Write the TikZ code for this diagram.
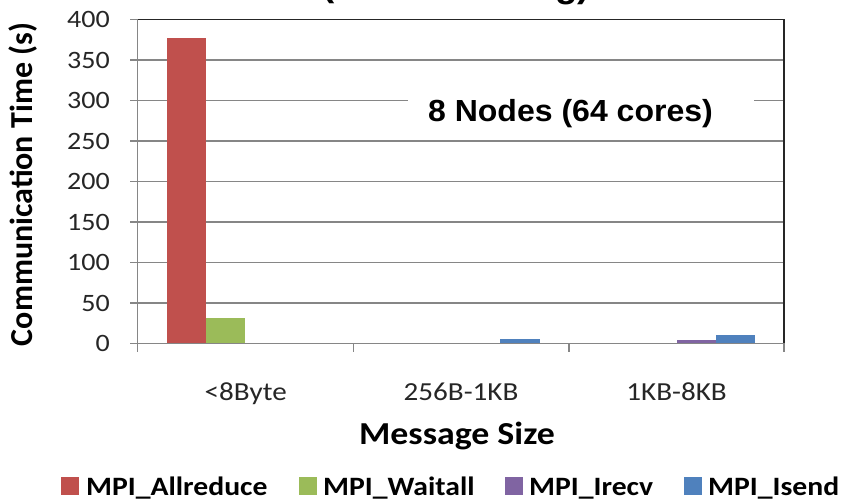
\documentclass[tikz,border=0pt]{standalone}
\usepackage{fontspec}
\newfontfamily\calr[FakeStretch=1.12]{Carlito}
\newfontfamily\calp{Carlito}
\newfontfamily\arl[FakeStretch=1.05]{Liberation Sans}
\definecolor{cred}{HTML}{C0504D}
\definecolor{cgreen}{HTML}{9BBB59}
\definecolor{cpurple}{HTML}{8064A2}
\definecolor{cblue}{HTML}{4F81BD}
\definecolor{gridc}{HTML}{868686}
\definecolor{tickc}{HTML}{262626}
\tikzset{
  gridline/.style={draw=gridc, line width=1.3pt},
  axisline/.style={draw=gridc, line width=1.3pt},
  frameline/.style={draw=black!85, line width=1.3pt},
  ticklab/.style={inner sep=0pt, anchor=east, text=tickc, font=\calr\fontsize{25}{30}\selectfont},
  catlab/.style={inner sep=0pt, anchor=base, text=tickc, font=\calr\fontsize{26}{30}\selectfont},
  legtext/.style={inner sep=0pt, anchor=base west, font=\calr\bfseries\fontsize{26.5}{30}\selectfont},
  bar/.style={draw=none}
}
\begin{document}
\begin{tikzpicture}[x=1pt,y=-1pt]
\useasboundingbox (0,0) rectangle (846,502);
% title fragments (cut off at the top)
\node[inner sep=0pt, anchor=base west, font=\arl\bfseries\fontsize{35}{40}\selectfont] (tl) at (322,-3) {(};
\node[inner sep=0pt, anchor=base west, font=\arl\bfseries\fontsize{35}{40}\selectfont] (tr) at (555,-2) {g)};
% gridlines
\foreach \v in {50,100,...,350}
  \draw[gridline] (137.5,{343.5-0.81*\v}) -- (784,{343.5-0.81*\v});
% label box
\fill[white] (408,90) rectangle (754,138);
\node[inner sep=0pt, anchor=base, font=\arl\bfseries\fontsize{30.5}{36}\selectfont] (lbl) at (570.5,122) {8 Nodes (64 cores)};
% bars
\fill[cred] (167,343.5) rectangle (206.2,{343.5-0.81*377});
\fill[cgreen] (206.2,343.5) rectangle (245.4,{343.5-0.81*31.5});
\fill[cblue] (500.4,343.5) rectangle (539.7,{343.5-0.81*6});
\fill[cpurple] (676.6,343.5) rectangle (715.8,{343.5-0.81*4});
\fill[cblue] (715.8,343.5) rectangle (755,{343.5-0.81*11});
% frame top and right
\draw[frameline] (137.5,19.5) -- (784,19.5) -- (784,343.5);
% axes
\draw[axisline] (137.5,19.5) -- (137.5,343.5) -- (784,343.5);
\foreach \v in {0,50,...,400}
  \draw[axisline] (130,{343.5-0.81*\v}) -- (137.5,{343.5-0.81*\v});
\foreach \x in {137.5,353.7,569,784}
  \draw[axisline] (\x,343.5) -- (\x,352);
% y tick labels
\foreach \v in {0,50,...,400}
  \node[ticklab] (t\v) at (110,{343.5-0.81*\v}) {\v};
% y axis label
\node[inner sep=0pt, rotate=90, font=\calp\bfseries\fontsize{32}{36}\selectfont] (ylab) at (23,184.5) {Communication Time (s)};
% category labels
\node[catlab] (c1) at (245.7,400) {<8Byte};
\node[catlab] (c2) at (461,400) {256B-1KB};
\node[catlab] (c3) at (676.6,400) {1KB-8KB};
\node[inner sep=0pt, anchor=base, font=\calr\bfseries\fontsize{32}{36}\selectfont] (xlab) at (457,444) {Message Size};
% legend
\fill[cred] (61,477) rectangle (79,495);
\node[legtext] (l1) at (86,495) {MPI\_Allreduce};
\fill[cgreen] (299,477) rectangle (317,495);
\node[legtext] (l2) at (323,495) {MPI\_Waitall};
\fill[cpurple] (505,477) rectangle (523,495);
\node[legtext] (l3) at (529,495) {MPI\_Irecv};
\fill[cblue] (684,477) rectangle (702,495);
\node[legtext] (l4) at (708,495) {MPI\_Isend};
\end{tikzpicture}
\end{document}
